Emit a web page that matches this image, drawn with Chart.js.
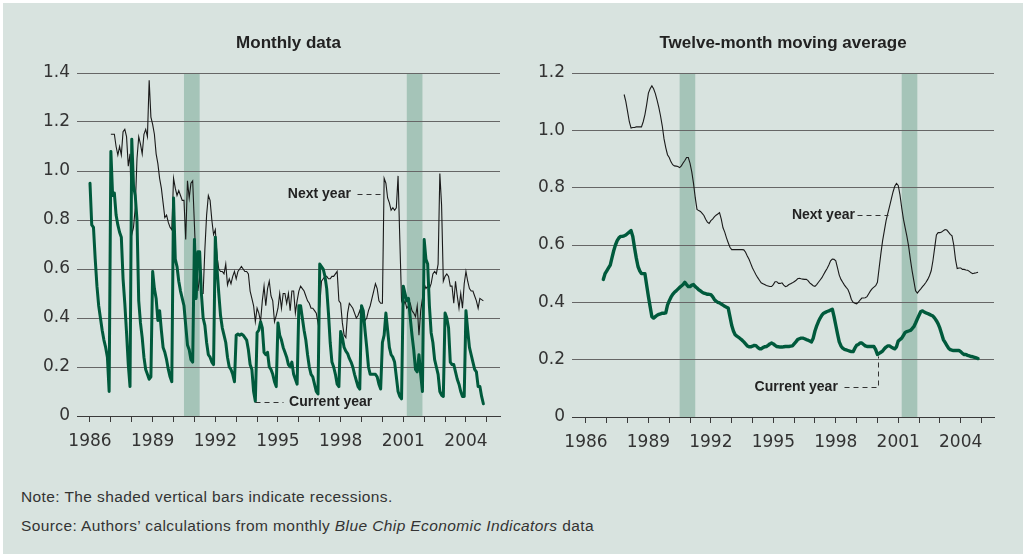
<!DOCTYPE html>
<html>
<head>
<meta charset="utf-8">
<script src="https://cdn.jsdelivr.net/npm/chart.js@4.4.1/dist/chart.umd.min.js"></script>
<style>
  html, body { margin: 0; padding: 0; background: #ffffff; }
  body { width: 1026px; height: 554px; position: relative; overflow: hidden; }
  #bg { position: absolute; left: 3px; top: 3px; width: 1020px; height: 551px; background: #d8e3df; }
  canvas { position: absolute; top: 0; }
  #c1 { left: 0; }
  #c2 { left: 510px; }
  .note { position: absolute; left: 21px; font-family: "Liberation Sans", Arial, sans-serif; font-size: 15.5px; letter-spacing: 0.4px; color: #333; line-height: 18px; white-space: nowrap; }
</style>
</head>
<body>
<div id="bg"></div>
<canvas id="c1" width="513" height="470"></canvas>
<canvas id="c2" width="516" height="470"></canvas>
<div class="note" style="top:488px;">Note: The shaded vertical bars indicate recessions.</div>
<div class="note" style="top:517px;">Source: Authors’ calculations from monthly <i>Blue Chip Economic Indicators</i> data</div>
<script>
// ---------- DATA ----------
// Monthly standard deviation of forecasts, current-year forecast (Jan 1986 – Nov 2004)
const currentYearStart = [1986, 0];
const currentYearMonthly = [
  0.95, 0.78, 0.77, 0.64, 0.53, 0.45, 0.40, 0.35, 0.31, 0.28, 0.24, 0.10, // 1986
  1.08, 0.90, 0.91, 0.82, 0.78, 0.75, 0.73, 0.56, 0.46, 0.34, 0.21, 0.12, // 1987
  1.13, 0.94, 0.90, 0.80, 0.47, 0.38, 0.32, 0.24, 0.19, 0.17, 0.15, 0.16, // 1988
  0.59, 0.52, 0.48, 0.39, 0.43, 0.35, 0.28, 0.26, 0.23, 0.19, 0.16, 0.14, // 1989
  0.89, 0.64, 0.61, 0.55, 0.51, 0.48, 0.45, 0.37, 0.29, 0.27, 0.23, 0.22, // 1990
  0.72, 0.48, 0.67, 0.67, 0.50, 0.40, 0.37, 0.30, 0.25, 0.24, 0.22, 0.21, // 1991
  0.73, 0.60, 0.50, 0.41, 0.36, 0.33, 0.30, 0.24, 0.20, 0.19, 0.17, 0.14, // 1992
  0.33, 0.335, 0.33, 0.335, 0.33, 0.32, 0.31, 0.27, 0.21, 0.19, 0.10, 0.06, // 1993
  0.34, 0.35, 0.385, 0.36, 0.26, 0.25, 0.26, 0.20, 0.19, 0.17, 0.14, 0.12, // 1994
  0.38, 0.33, 0.31, 0.28, 0.26, 0.24, 0.21, 0.20, 0.22, 0.17, 0.15, 0.13, // 1995
  0.45, 0.45, 0.40, 0.35, 0.31, 0.25, 0.20, 0.17, 0.16, 0.13, 0.10, 0.09, // 1996
  0.62, 0.61, 0.60, 0.57, 0.52, 0.42, 0.30, 0.22, 0.20, 0.17, 0.13, 0.12, // 1997
  0.345, 0.32, 0.28, 0.265, 0.255, 0.235, 0.22, 0.20, 0.17, 0.145, 0.12, 0.11, // 1998
  0.45, 0.43, 0.35, 0.28, 0.20, 0.17, 0.17, 0.17, 0.17, 0.16, 0.13, 0.11, // 1999
  0.30, 0.33, 0.42, 0.35, 0.28, 0.25, 0.24, 0.22, 0.16, 0.10, 0.08, 0.07, // 2000
  0.53, 0.50, 0.47, 0.48, 0.40, 0.33, 0.27, 0.19, 0.18, 0.25, 0.17, 0.10, // 2001
  0.72, 0.64, 0.62, 0.45, 0.34, 0.30, 0.23, 0.20, 0.17, 0.10, 0.085, 0.08, // 2002
  0.42, 0.40, 0.36, 0.22, 0.21, 0.21, 0.18, 0.15, 0.13, 0.10, 0.08, 0.08, // 2003
  0.43, 0.35, 0.28, 0.25, 0.22, 0.19, 0.18, 0.12, 0.12, 0.08, 0.05        // 2004
];
// Monthly standard deviation of forecasts, next-year forecast (Jan 1987 – Nov 2004)
const nextYearStart = [1987, 0];
const nextYearMonthly = [
  1.15, 1.15, 1.15, 1.10, 1.065, 1.10, 1.065, 1.16, 1.17, 1.14, 1.02, 1.07, // 1987
  0.74, 0.77, 0.85, 1.05, 1.14, 1.11, 1.07, 1.15, 1.17, 1.14, 1.37, 1.22, // 1988
  1.19, 1.15, 1.07, 1.03, 0.97, 0.93, 0.87, 0.81, 0.82, 0.79, 0.77, 0.76, // 1989
  0.97, 0.93, 0.90, 0.92, 0.90, 0.88, 0.88, 0.72, 0.96, 0.89, 0.95, 0.96, // 1990
  0.78, 0.60, 0.51, 0.57, 0.50, 0.50, 0.68, 0.82, 0.90, 0.88, 0.80, 0.74, // 1991
  0.76, 0.65, 0.60, 0.59, 0.59, 0.58, 0.62, 0.535, 0.56, 0.54, 0.57, 0.59, // 1992
  0.56, 0.59, 0.60, 0.61, 0.60, 0.59, 0.59, 0.58, 0.51, 0.48, 0.45, 0.385, // 1993
  0.44, 0.42, 0.385, 0.47, 0.53, 0.45, 0.52, 0.55, 0.49, 0.47, 0.385, 0.41, // 1994
  0.44, 0.50, 0.44, 0.50, 0.50, 0.46, 0.50, 0.43, 0.51, 0.51, 0.42, 0.47, // 1995
  0.51, 0.53, 0.52, 0.51, 0.49, 0.47, 0.46, 0.44, 0.44, 0.43, 0.42, 0.38, // 1996
  0.45, 0.55, 0.56, 0.57, 0.57, 0.56, 0.56, 0.57, 0.57, 0.58, 0.59, 0.47, // 1997
  0.46, 0.38, 0.33, 0.32, 0.42, 0.46, 0.45, 0.44, 0.42, 0.40, 0.41, 0.43, // 1998
  0.40, 0.41, 0.39, 0.40, 0.43, 0.45, 0.48, 0.51, 0.54, 0.52, 0.47, 0.46, // 1999
  0.46, 0.97, 0.95, 0.89, 0.87, 0.84, 0.85, 0.84, 0.85, 0.98, 0.72, 0.47, // 2000
  0.45, 0.47, 0.44, 0.45, 0.46, 0.43, 0.42, 0.405, 0.45, 0.33, 0.43, 0.48, // 2001
  0.54, 0.52, 0.53, 0.52, 0.54, 0.58, 0.59, 0.58, 0.62, 0.99, 0.86, 0.55, // 2002
  0.57, 0.58, 0.57, 0.53, 0.53, 0.46, 0.55, 0.49, 0.44, 0.50, 0.44, 0.54, // 2003
  0.59, 0.55, 0.52, 0.51, 0.51, 0.49, 0.47, 0.44, 0.48, 0.475, 0.47        // 2004
];
// Twelve-month moving average, current year (Nov 1986 – Nov 2004)
const maCurrentStart = [1986, 10];
const maCurrent = [
  0.48, 0.50, // 1986
  0.51, 0.52, 0.53, 0.555, 0.58, 0.60, 0.615, 0.625, 0.63, 0.63, 0.632, 0.635, // 1987
  0.64, 0.645, 0.65, 0.63, 0.59, 0.555, 0.525, 0.51, 0.50, 0.50, 0.50, 0.46, // 1988
  0.42, 0.385, 0.35, 0.345, 0.35, 0.355, 0.358, 0.36, 0.362, 0.362, 0.363, 0.39, // 1989
  0.405, 0.418, 0.428, 0.435, 0.44, 0.446, 0.452, 0.457, 0.462, 0.47, 0.462, 0.455, // 1990
  0.455, 0.46, 0.462, 0.455, 0.45, 0.444, 0.44, 0.435, 0.432, 0.43, 0.428, 0.428, // 1991
  0.427, 0.42, 0.41, 0.404, 0.40, 0.398, 0.394, 0.39, 0.386, 0.383, 0.38, 0.35, // 1992
  0.32, 0.30, 0.287, 0.282, 0.278, 0.273, 0.268, 0.262, 0.255, 0.248, 0.245, 0.245, // 1993
  0.247, 0.25, 0.249, 0.243, 0.238, 0.238, 0.242, 0.245, 0.246, 0.25, 0.255, 0.258, // 1994
  0.255, 0.25, 0.246, 0.245, 0.244, 0.244, 0.245, 0.246, 0.246, 0.246, 0.247, 0.248, // 1995
  0.255, 0.262, 0.27, 0.273, 0.275, 0.275, 0.273, 0.27, 0.268, 0.265, 0.262, 0.275, // 1996
  0.30, 0.318, 0.333, 0.345, 0.355, 0.362, 0.365, 0.368, 0.37, 0.373, 0.376, 0.35, // 1997
  0.32, 0.29, 0.262, 0.248, 0.24, 0.236, 0.234, 0.232, 0.23, 0.228, 0.228, 0.24, // 1998
  0.25, 0.253, 0.258, 0.258, 0.253, 0.248, 0.246, 0.246, 0.246, 0.246, 0.246, 0.235, // 1999
  0.218, 0.222, 0.226, 0.23, 0.238, 0.244, 0.248, 0.248, 0.244, 0.24, 0.238, 0.245, // 2000
  0.265, 0.27, 0.275, 0.285, 0.295, 0.298, 0.30, 0.302, 0.308, 0.315, 0.328, 0.342, // 2001
  0.355, 0.368, 0.37, 0.366, 0.363, 0.361, 0.358, 0.355, 0.352, 0.345, 0.336, 0.325, // 2002
  0.31, 0.29, 0.27, 0.26, 0.25, 0.24, 0.235, 0.233, 0.232, 0.232, 0.232, 0.232, // 2003
  0.228, 0.222, 0.218, 0.218, 0.215, 0.213, 0.211, 0.21, 0.208, 0.206, 0.204 // 2004
];
// Twelve-month moving average, next year (Nov 1987 – Nov 2004)
const maNextStart = [1987, 10];
const maNext = [
  1.125, 1.10, // 1987
  1.065, 1.03, 1.008, 1.01, 1.01, 1.012, 1.012, 1.012, 1.012, 1.03, 1.055, 1.09, // 1988
  1.13, 1.145, 1.155, 1.145, 1.128, 1.105, 1.08, 1.05, 1.015, 0.97, 0.94, 0.915, // 1989
  0.905, 0.89, 0.88, 0.876, 0.875, 0.874, 0.87, 0.876, 0.886, 0.895, 0.905, 0.905, // 1990
  0.885, 0.855, 0.815, 0.765, 0.724, 0.72, 0.717, 0.71, 0.703, 0.69, 0.68, 0.675, // 1991
  0.685, 0.69, 0.698, 0.704, 0.708, 0.713, 0.69, 0.66, 0.645, 0.625, 0.608, 0.592, // 1992
  0.584, 0.584, 0.584, 0.584, 0.584, 0.584, 0.584, 0.583, 0.575, 0.562, 0.55, 0.535, // 1993
  0.52, 0.508, 0.496, 0.486, 0.477, 0.468, 0.465, 0.462, 0.459, 0.457, 0.455, 0.455, // 1994
  0.462, 0.472, 0.472, 0.466, 0.466, 0.468, 0.46, 0.455, 0.457, 0.462, 0.465, 0.468, // 1995
  0.472, 0.476, 0.482, 0.484, 0.482, 0.481, 0.48, 0.48, 0.476, 0.468, 0.463, 0.458, // 1996
  0.456, 0.462, 0.47, 0.478, 0.486, 0.497, 0.508, 0.518, 0.53, 0.545, 0.551, 0.55, // 1997
  0.545, 0.52, 0.495, 0.48, 0.47, 0.46, 0.452, 0.445, 0.43, 0.41, 0.40, 0.397, // 1998
  0.395, 0.40, 0.408, 0.415, 0.415, 0.416, 0.42, 0.43, 0.44, 0.448, 0.453, 0.458, // 1999
  0.47, 0.52, 0.57, 0.615, 0.65, 0.685, 0.71, 0.735, 0.76, 0.785, 0.805, 0.815, // 2000
  0.808, 0.775, 0.73, 0.69, 0.66, 0.63, 0.595, 0.55, 0.51, 0.475, 0.44, 0.432, // 2001
  0.44, 0.447, 0.455, 0.462, 0.47, 0.48, 0.493, 0.51, 0.545, 0.59, 0.635, 0.643, // 2002
  0.643, 0.645, 0.65, 0.654, 0.652, 0.645, 0.637, 0.632, 0.60, 0.55, 0.518, 0.52, // 2003
  0.52, 0.515, 0.515, 0.513, 0.512, 0.508, 0.503, 0.50, 0.502, 0.503, 0.505 // 2004
];
// Axis ticks and labels
const tickYears = [1986,1987,1988,1989,1990,1991,1992,1993,1994,1995,1996,1997,1998,1999,2000,2001,2002,2003,2004,2005];
const labelYears = [1986, 1989, 1992, 1995, 1998, 2001, 2004];
// Recessions (decimal years: Jul 1990 – Mar 1991, Mar 2001 – Nov 2001)
const recessions = [[1990.5, 1991.25], [2001 + 2/12, 2001 + 11/12]];

// ---------- STYLE / CONFIG ----------
const GREEN = '#005a3c';
const BLACK = '#1a1a1a';
const REC = '#a5c4b8';
const GRID = '#666666';
const AXIS = '#3a3a3a';
const TICKFONT = { family: 'DejaVu Sans', size: 17 };

function toPoints(values, start) {
  return values.map((v, i) => ({ x: start[0] + (start[1] + i) / 12, y: v }));
}

const recessionPlugin = {
  id: 'recessions',
  beforeDraw(chart) {
    const { ctx, chartArea, scales } = chart;
    ctx.save();
    ctx.fillStyle = REC;
    recessions.forEach(([a, b]) => {
      const x1 = scales.x.getPixelForValue(a);
      const x2 = scales.x.getPixelForValue(b);
      ctx.fillRect(x1, chartArea.top, x2 - x1, chartArea.bottom - chartArea.top);
    });
    ctx.restore();
  }
};

const titlePlugin = {
  id: 'paneltitle',
  afterDraw(chart, args, opts) {
    const { ctx, chartArea } = chart;
    ctx.save();
    ctx.font = 'bold 17px "Liberation Sans", Arial, sans-serif';
    ctx.fillStyle = '#222';
    ctx.textAlign = 'center';
    ctx.textBaseline = 'middle';
    ctx.fillText(opts.text, (chartArea.left + chartArea.right) / 2, 43);
    ctx.restore();
  }
};

const notePlugin = {
  id: 'callouts',
  afterDatasetsDraw(chart, args, opts) {
    const { ctx, scales } = chart;
    const px = v => scales.x.getPixelForValue(v);
    const py = v => scales.y.getPixelForValue(v);
    ctx.save();
    (opts.items || []).forEach(it => {
      ctx.strokeStyle = '#333';
      ctx.lineWidth = 1;
      ctx.setLineDash([5, 4]);
      ctx.beginPath();
      it.path.forEach((p, i) => {
        const X = Math.round(px(p[0])) + 0.5, Y = Math.round(py(p[1])) + 0.5;
        if (i === 0) ctx.moveTo(X, Y); else ctx.lineTo(X, Y);
      });
      ctx.stroke();
      ctx.setLineDash([]);
      ctx.font = 'bold 14px "Liberation Sans", Arial, sans-serif';
      ctx.fillStyle = '#222';
      ctx.textAlign = it.align;
      ctx.textBaseline = 'middle';
      ctx.fillText(it.text, px(it.at[0]), py(it.at[1]));
    });
    ctx.restore();
  }
};

function makeChart(canvasId, opt) {
  return new Chart(document.getElementById(canvasId), {
    type: 'line',
    data: {
      datasets: [
        { data: opt.next, borderColor: BLACK, borderWidth: 1.1, pointRadius: 0, tension: 0, order: 2 },
        { data: opt.current, borderColor: GREEN, borderWidth: opt.greenWidth, pointRadius: 0, tension: 0, order: 1,
          borderJoinStyle: 'round', borderCapStyle: 'round' }
      ]
    },
    options: {
      responsive: false,
      animation: false,
      events: [],
      parsing: false,
      layout: { padding: opt.padding },
      plugins: {
        legend: { display: false },
        tooltip: { enabled: false },
        paneltitle: { text: opt.title },
        callouts: { items: opt.callouts }
      },
      scales: {
        x: {
          type: 'linear',
          min: opt.xmin, max: opt.xmax,
          afterBuildTicks: s => { s.ticks = tickYears.map(v => ({ value: v })); },
          afterFit: s => { s.height = 40; },
          ticks: {
            autoSkip: false, maxRotation: 0, minRotation: 0,
            padding: 9,
            color: '#333',
            font: TICKFONT,
            callback: v => labelYears.includes(v) ? String(v) : ''
          },
          grid: { drawOnChartArea: false, drawTicks: true, tickLength: 6, color: AXIS, tickColor: AXIS, tickWidth: 1 },
          border: { display: true, color: AXIS, width: 1 }
        },
        y: {
          min: 0, max: opt.ymax,
          afterFit: s => { s.width = opt.yWidth; },
          ticks: {
            stepSize: 0.2,
            padding: 7,
            color: '#333',
            font: TICKFONT,
            callback: v => (Math.abs(v) < 1e-9 ? '0' : v.toFixed(1))
          },
          grid: { color: GRID, lineWidth: 1, drawTicks: false },
          border: { display: false }
        }
      }
    },
    plugins: [recessionPlugin, titlePlugin, notePlugin]
  });
}

makeChart('c1', {
  title: 'Monthly data',
  current: toPoints(currentYearMonthly, currentYearStart),
  next: toPoints(nextYearMonthly, nextYearStart),
  greenWidth: 3,
  xmin: 1985.378, xmax: 2005.63,
  ymax: 1.4,
  yWidth: 77,
  padding: { top: 73, left: 0, right: 13, bottom: 14 },
  callouts: [
    { text: 'Next year', align: 'right', at: [1998.49, 0.906], path: [[1998.78, 0.906], [2000.07, 0.906]] },
    { text: 'Current year', align: 'left', at: [1995.53, 0.057], path: [[1993.9, 0.057], [1995.24, 0.057]] }
  ]
});

makeChart('c2', {
  title: 'Twelve-month moving average',
  current: toPoints(maCurrent, maCurrentStart),
  next: toPoints(maNext, maNextStart),
  greenWidth: 3.4,
  xmin: 1985.33, xmax: 2005.6,
  ymax: 1.2,
  yWidth: 62,
  padding: { top: 73, left: 0, right: 32, bottom: 13 },
  callouts: [
    { text: 'Next year', align: 'right', at: [1998.92, 0.705], path: [[1999.02, 0.705], [2000.5, 0.705]] },
    { text: 'Current year', align: 'right', at: [1998.10, 0.105], path: [[1998.39, 0.105], [2000.02, 0.105], [2000.02, 0.212]] }
  ]
});
</script>
</body>
</html>
